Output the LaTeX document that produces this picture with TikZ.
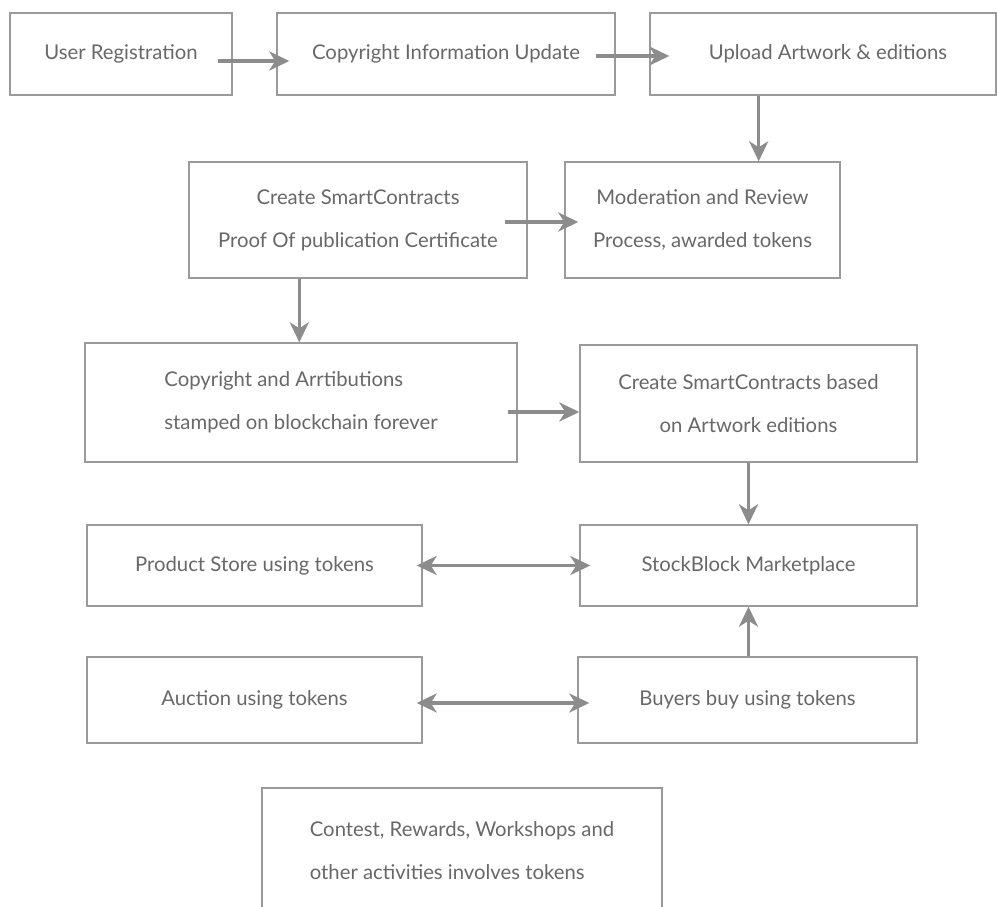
\documentclass[tikz,border=0pt]{standalone}
\usepackage{fontspec}
\setmainfont{Lato}
\usetikzlibrary{arrows.meta}
\definecolor{boxgray}{HTML}{9A9A9A}
\definecolor{txtgray}{HTML}{686868}
\definecolor{arrgray}{HTML}{8C8C8C}
\begin{document}
\begin{tikzpicture}[x=1pt,y=-1pt,
  box/.style={draw=boxgray, line width=1.4pt, inner sep=0pt, text=txtgray,
    font=\fontsize{20.3}{43}\selectfont, align=center},
  conn/.style={draw=arrgray, line width=3.2pt,
    -{Stealth[length=20pt,width=19pt,inset=6pt]}},
  bconn/.style={draw=arrgray, line width=3.2pt,
    {Stealth[length=20pt,width=19pt,inset=6pt]}-{Stealth[length=20pt,width=19pt,inset=6pt]}}]
\useasboundingbox[fill=white] (0,0) rectangle (997,907);
% row 1
\node[box, minimum width=222pt, minimum height=82pt] (b1) at (121,54) {User Registration};
\node[box, minimum width=338pt, minimum height=82pt] (b2) at (446,54) {Copyright Information Update};
\node[box, minimum width=346pt, minimum height=82pt] (b3) at (823,54) {};
\node[text=txtgray, font=\fontsize{20.3}{43}\selectfont] (t3) at (828,54) {Upload Artwork \& editions};
% row 2
\node[box, minimum width=338pt, minimum height=116pt] (csc) at (358,220) {Create SmartContracts\\Proof Of publication Certificate};
\node[box, minimum width=275pt, minimum height=116pt] (mod) at (702.5,220) {Moderation and Review\\Process, awarded tokens};
% row 3
\node[box, minimum width=432pt, minimum height=119pt, align=left] (copy) at (301,402.5) {Copyright and Arrtibutions\\stamped on blockchain forever};
\node[box, minimum width=337pt, minimum height=117pt] (cscb) at (748.5,403.5) {Create SmartContracts based\\on Artwork editions};
% row 4
\node[box, minimum width=335pt, minimum height=81pt] (prod) at (254.5,565.5) {Product Store using tokens};
\node[box, minimum width=337pt, minimum height=81pt] (sbm) at (748.5,565.5) {StockBlock Marketplace};
% row 5
\node[box, minimum width=335pt, minimum height=86pt] (auc) at (254.5,700) {Auction using tokens};
\node[box, minimum width=339pt, minimum height=86pt] (buy) at (747.5,700) {Buyers buy using tokens};
% row 6
\node[box, minimum width=400pt, minimum height=126pt, align=left] (cont) at (462,851) {Contest, Rewards, Workshops and\\other activities involves tokens};
% connectors (canvas yshift: negative = downwards)
\draw[conn] ([xshift=-15pt,yshift=-7pt]b1.east) -- ([xshift=13pt,yshift=-7pt]b2.west);
\draw[conn] ([xshift=-20pt,yshift=-2pt]b2.east) -- ([xshift=20pt,yshift=-2pt]b3.west);
\draw[conn] (b3.south -| mod.north east) ++(-82pt,0) coordinate (a3s) -- (a3s |- mod.north);
\draw[conn] ([xshift=-23pt,yshift=-2pt]csc.east) -- ([xshift=14pt,yshift=-2pt]mod.west);
\draw[conn] (csc.south west) ++(111pt,0) coordinate (a5s) -- (a5s |- copy.north);
\draw[conn] ([xshift=-10pt,yshift=-9.5pt]copy.east) -- ([yshift=-9.5pt]copy.east -| cscb.west);
\draw[conn] (cscb.south) -- (sbm.north);
\draw[bconn] ([xshift=-6pt]prod.east) -- ([xshift=11pt]sbm.west);
\draw[bconn] ([xshift=-6pt,yshift=-3pt]auc.east) -- ([xshift=12pt,yshift=-3pt]buy.west);
\draw[conn] (buy.north -| sbm.south) -- (sbm.south);
\end{tikzpicture}
\end{document}
